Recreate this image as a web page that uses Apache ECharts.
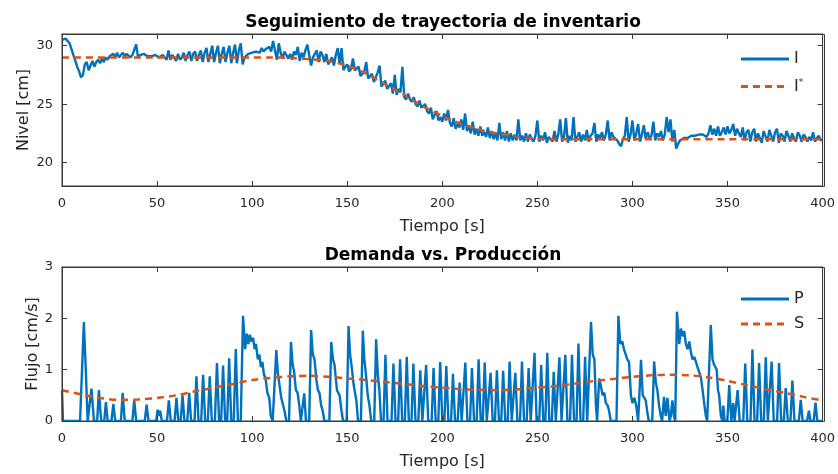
<!DOCTYPE html>
<html>
<head>
<meta charset="utf-8">
<script src="https://cdn.jsdelivr.net/npm/echarts@6/dist/echarts.min.js"></script>
<style>html,body{margin:0;padding:0;background:#fff}#c{width:838px;height:474px}</style>
</head>
<body>
<div id="c"></div>
<script>
// ---- Top chart: inventory level I (sampled every 1 s from t=0 to 400) ----
const levelI = [
30.5,30.6,30.6,30.5,30.2,29.7,29.2,28.7,28.2,27.8,
27.3,27.5,28.4,28.6,27.9,28.3,28.7,28.2,28.6,28.8,
28.5,28.9,28.6,29.0,28.8,29.1,29.0,29.3,29.0,29.4,
29.0,29.2,29.4,29.1,29.3,29.2,29.0,29.2,29.1,30.1,
29.0,29.2,29.1,29.3,29.2,29.1,29.2,29.1,29.0,29.2,
29.1,29.0,29.1,29.2,29.0,28.8,29.6,28.8,29.2,29.0,
28.7,29.3,28.8,29.0,29.4,28.7,29.2,29.5,28.7,29.3,
29.5,28.7,29.2,29.6,28.6,29.4,29.8,28.6,29.3,30.0,
28.6,29.4,30.0,28.5,29.3,29.9,28.6,29.4,30.0,28.5,
29.4,30.1,28.5,29.6,30.2,28.4,29.0,29.1,29.3,29.2,
29.4,29.3,29.5,29.6,29.4,29.8,29.5,29.7,29.6,29.9,
29.5,30.4,29.6,28.8,30.2,29.4,28.9,29.5,29.2,28.9,
29.3,28.8,29.5,29.2,29.9,28.7,29.4,29.0,29.6,30.1,
29.2,28.3,29.0,29.3,29.6,28.6,29.5,29.2,28.6,29.3,
28.4,28.5,29.0,28.3,29.2,29.8,28.4,29.8,27.9,28.2,
28.4,27.8,28.0,28.9,27.9,27.8,28.2,27.4,27.3,27.8,
28.6,27.2,27.2,27.6,26.9,27.0,27.7,28.3,26.5,26.6,
27.0,26.3,26.4,26.8,25.9,27.5,25.8,26.3,26.0,28.2,
25.6,25.4,25.9,25.4,25.2,25.6,25.0,24.8,25.3,24.7,
24.6,25.0,24.4,24.2,24.7,23.7,24.1,24.4,23.6,23.9,
23.5,24.2,23.6,24.5,23.4,23.1,23.8,22.9,23.3,23.0,
23.7,22.8,24.2,22.7,23.2,22.5,23.5,22.4,22.9,22.3,
23.1,22.3,22.6,22.2,23.0,22.1,22.7,22.0,22.5,21.9,
23.4,22.0,22.6,21.9,22.7,21.8,22.5,21.9,22.4,21.9,
23.7,21.9,22.3,21.8,22.5,21.8,22.4,22.0,21.8,22.3,
23.6,21.8,22.3,21.9,22.6,21.7,22.2,22.3,21.8,22.7,
21.8,22.4,23.7,21.8,22.2,23.8,21.7,22.3,21.9,23.9,
21.8,22.2,22.6,21.8,22.4,21.9,22.8,21.8,22.3,22.5,
23.4,21.8,22.4,22.1,22.6,21.9,22.4,23.6,21.9,22.6,
22.2,22.1,21.9,21.6,21.4,22.0,22.3,23.9,21.8,22.4,
23.6,21.9,22.5,23.3,21.8,22.4,23.2,22.0,22.6,22.1,
22.3,23.5,21.9,22.5,22.2,22.7,21.9,22.4,23.9,22.6,
23.7,21.8,22.8,21.2,21.6,21.9,22.0,22.1,22.2,22.1,
22.2,22.3,22.2,22.3,22.2,22.4,22.3,22.4,22.3,22.2,
22.5,23.2,22.4,22.9,22.3,23.1,22.3,22.6,23.0,22.4,
23.1,22.5,22.8,23.3,22.3,22.9,22.5,22.2,23.0,21.9,
22.6,22.8,21.8,22.6,22.9,21.8,22.5,22.4,21.7,22.7,
22.6,21.8,22.8,22.3,21.8,22.6,22.9,21.7,22.5,22.3,
21.8,22.7,22.3,21.8,22.5,22.1,21.8,22.6,22.3,21.8,
22.4,22.2,21.8,22.2,21.9,22.6,21.8,22.1,22.3,21.9,
22.0];

// reference trajectory I*
const refTime = [0,100,110,120,130,140,150,160,170,180,190,200,210,220,230,240,250,260,300,350,400];
const refI    = [29.0,29.0,29.0,28.95,28.85,28.7,28.3,27.6,26.7,25.8,24.8,24.0,23.3,22.8,22.45,22.2,22.05,22.0,22.0,22.0,22.0];

// ---- Bottom chart: production P (vertices) and demand S ----
const pTime = [0,0.5,9.5,11.5,12.5,13.5,15.5,16.8,18.5,19.4,20.6,22.2,23.1,24,26,27,28,31,31.9,33,37,38,39,43.5,44.5,45.5,49.5,50.3,51,51.6,52.5,55.2,56.2,57.2,59.2,60.2,61.2,62.4,63.4,64.4,65.9,66.9,67.9,69.7,70.7,71.8,73.2,74.2,75.3,76.7,77.7,78.8,80.4,81.5,82.6,83.7,84.7,85.8,86.9,87.9,89,90.3,91.4,92.5,94,95.2,96.3,97.2,98,98.8,99.6,100.5,101.3,102,103,103.8,104.6,105.4,106.2,107,108,109,109.8,110.8,111.8,112.7,113.6,114.4,115.3,116.2,117,118,119.4,120.4,121.3,122.1,123,123.9,124.8,125.6,126.6,127.4,128.3,130,131,131.9,132.8,133.8,134.6,135.4,136.3,137.1,138,140.6,141.6,142.5,143.3,144.6,145.3,146,147,147.8,149.7,150.7,151.5,152.2,153.4,154.1,154.8,155.7,157.2,158.2,159,159.6,160.8,161.7,162.6,164.2,165.2,166.1,166.9,167.8,169.1,170.1,171.2,173.3,174.3,175.4,176.8,177.8,178.9,180.3,181.3,182.4,183.8,184.8,185.9,187.4,188.4,189.5,190.5,191.5,192.6,194.4,195.4,196.5,197.9,198.9,200,201.1,202.1,203.2,204.6,205.6,206.7,208.1,209.1,210.2,211.1,212.1,213.2,214.6,215.6,216.7,218.1,219.1,220.2,221.3,222.3,223.4,224.4,225.4,226.5,227.7,228.7,229.8,231,232,233.1,234.4,235.4,236.5,237.4,238.4,239.5,240.9,241.9,243,244.4,245.4,246.5,247.5,248.5,249.6,251,252,253.1,254.2,255.2,256.3,257.6,258.6,259.7,260.6,261.6,262.7,263.7,264.7,265.8,267.2,268.2,269.3,270.6,271.6,272.7,274.1,275.1,276.2,277.2,278.2,279.1,280,280.8,281.4,282.5,283.3,284.3,285.2,286,287,287.7,288.6,291.6,292.6,293.6,294.7,295.5,296.4,297.3,298.2,299.2,300,301,302,303,303.8,304.5,305.4,306.3,307,307.9,308.6,310.4,311.4,312.3,313.1,314,314.9,315.6,316.6,317.5,318.4,319.5,320.2,321,321.8,322.5,323.4,324.6,325.5,326.4,327.2,328.1,329,329.9,330.7,331.6,332.5,333.4,334.2,335.1,336,336.9,337.7,338.6,339.3,340.2,341.2,342.1,342.9,343.6,344.3,345,345.6,346.5,347.3,347.8,348.5,349.9,350.9,352,353,353.7,354.3,355.3,356.4,358.3,359.3,360.4,362.1,363.1,364.2,365.6,366.6,367.7,369.1,370.1,371.2,372.2,373.2,374.3,376.1,377.1,378.2,379.6,380.6,381.7,383.1,384.1,385.2,387.5,388.5,389.5,391.8,392.8,393.6,395.3,396.3,397.2,400];
const pFlow = [0.6,0,0,1.93,1.0,0,0.63,0,0,0.6,0,0,0.37,0,0,0.33,0,0,0.55,0,0,0.4,0,0,0.32,0,0,0.22,0.1,0.2,0,0,0.4,0,0,0.45,0,0,0.5,0,0,0.55,0,0,0.87,0,0,0.9,0,0,0.87,0,0,1.13,0,0,1.08,0,0,1.22,0,0,1.4,0,0,2.05,1.4,1.7,1.5,1.68,1.55,1.62,1.4,1.5,1.2,1.3,1.05,1.15,0.9,0.85,0.55,0.45,0.1,0,0,1.38,0.9,0.7,0.45,0.47,0.2,0,0,1.54,1.1,0.95,0.6,0.55,0.3,0,0,0.54,0,0,1.77,1.3,1.2,0.8,0.6,0.55,0.3,0.2,0,0,1.54,1.2,1.1,0.6,0.55,0.5,0.2,0,0,1.85,1.3,1.1,0.7,0.55,0.4,0,0,1.76,1.2,1.0,0.5,0.3,0,0,1.59,0.9,0.6,0,0,1.29,0,0,1.12,0,0,1.2,0,0,1.25,0,0,1.12,0,0,0.99,0,0,1.09,0,0,1.03,0,0,1.15,0,0,1.07,0,0,0.92,0,0,0.75,0,0,1.14,0,0,1.03,0,0,1.2,0,0,1.14,0,0,0.94,0,0,0.99,0,0,0.98,0,0,1.16,0,0,0.94,0,0,1.16,0,0,1.03,0,0,1.33,0,0,1.09,0,0,1.33,0,0,0.96,0,0,1.24,0,0,1.29,0,0,1.29,0,0,1.51,0,0,1.25,0,0,1.93,1.3,1.2,0.3,0,0.83,0.7,0.5,0.55,0.35,0.3,0.2,0,0,2.05,1.5,1.55,1.4,1.42,1.2,1.15,0.5,0.35,0.45,0.3,0,0,1.19,0.5,0.45,0.4,0.15,0,0,1.16,0.75,0.6,0.3,0.1,0,0.47,0.1,0.45,0,0.1,0.4,0.1,0,2.13,1.5,1.8,1.65,1.75,1.5,1.4,1.55,1.35,1.2,1.25,1.15,1.05,0.95,0.85,0.6,0.35,0.1,0,0,1.87,1.2,1.1,1.12,1.0,0.6,0.5,0.1,0,0.3,0,0,0.7,0,0.35,0,0,0.6,0,0,1.12,0,0,1.39,0,0,1.13,0,0,1.24,0,0,1.16,0,0,1.13,0,0,0.64,0,0,0.79,0,0,0.41,0,0,0.2,0,0,0.36,0,0];

const sTime = [0,10,20,30,40,50,60,70,80,90,100,110,120,130,140,150,160,170,180,190,200,210,220,230,240,250,260,270,280,290,300,310,320,330,340,350,360,370,380,390,400];
const sFlow = [0.6,0.52,0.45,0.41,0.42,0.45,0.5,0.58,0.65,0.72,0.8,0.84,0.87,0.88,0.86,0.83,0.8,0.76,0.72,0.68,0.65,0.62,0.61,0.6,0.62,0.65,0.68,0.73,0.78,0.82,0.86,0.89,0.9,0.89,0.85,0.78,0.7,0.62,0.55,0.47,0.4];

const topYTicks = [20,25,30];
const botYTicks = [0,1,2,3];

const BLUE = '#0072BD', ORANGE = '#D95319', AX = '#3a3a3a', TXT = '#262626';
const FONT = '"DejaVu Sans", Verdana, sans-serif';
const SOLID_ICON = 'path://M0,0h48v3h-48z';
const DASH_ICON = 'path://M0,0h7v3h-7zM12,0h7v3h-7zM24,0h7v3h-7zM36,0h7v3h-7zM47.9,0h0.1v3h-0.1z';
const GRID_TOP = {left: 62, top: 34, width: 762, height: 152};
const GRID_BOT = {left: 62, top: 267, width: 762, height: 154};

function xAx(gi, pos, showLabel, name) {
  return {
    type: 'value', gridIndex: gi, position: pos, min: 0, max: 400, interval: 50, z: 5,
    axisLine: {show: true, onZero: false, lineStyle: {color: AX, width: 1}},
    axisTick: {show: true, inside: true, length: 5, lineStyle: {color: AX, width: 1}},
    axisLabel: {show: showLabel, color: TXT, fontSize: 13, fontFamily: FONT, margin: 11},
    splitLine: {show: false},
    name: name, nameLocation: 'middle', nameGap: 33, nameMoveOverlap: false,
    nameTextStyle: {color: TXT, fontSize: 16, fontFamily: FONT}
  };
}
function yAx(gi, pos, showLabel, min, max, ticks, name, gap) {
  return {
    type: 'value', gridIndex: gi, position: pos, min: min, max: max, z: 5,
    axisLine: {show: true, onZero: false, lineStyle: {color: AX, width: 1}},
    axisTick: {show: true, inside: true, length: 5, customValues: ticks, lineStyle: {color: AX, width: 1}},
    axisLabel: {show: showLabel, color: TXT, fontSize: 13, fontFamily: FONT, margin: 9, customValues: ticks},
    splitLine: {show: false},
    name: name, nameLocation: 'middle', nameGap: gap, nameMoveOverlap: false,
    nameTextStyle: {color: TXT, fontSize: 16, fontFamily: FONT}
  };
}
function frame(g) {
  return {type: 'rect', z: 100, silent: true,
    shape: {x: g.left + 0.5, y: g.top + 0.5, width: g.width, height: g.height},
    style: {fill: null, stroke: AX, lineWidth: 1}};
}

const option = {
  animation: false,
  backgroundColor: '#fff',
  title: [
    {text: 'Seguimiento de trayectoria de inventario', left: 438, top: 9, textAlign: 'center',
     textStyle: {fontSize: 17, fontWeight: 'bold', color: '#000', fontFamily: FONT}},
    {text: 'Demanda vs. Producción', left: 438, top: 242, textAlign: 'center',
     textStyle: {fontSize: 17, fontWeight: 'bold', color: '#000', fontFamily: FONT}}
  ],
  grid: [
    Object.assign({show: true, borderColor: AX, borderWidth: 1}, GRID_TOP),
    Object.assign({show: true, borderColor: AX, borderWidth: 1}, GRID_BOT)
  ],
  graphic: [frame(GRID_TOP), frame(GRID_BOT)],
  xAxis: [
    xAx(0, 'bottom', true, 'Tiempo [s]'), xAx(0, 'top', false, ''),
    xAx(1, 'bottom', true, 'Tiempo [s]'), xAx(1, 'top', false, '')
  ],
  yAxis: [
    yAx(0, 'left', true, 18, 31, topYTicks, 'Nivel [cm]', 30), yAx(0, 'right', false, 18, 31, topYTicks, '', 10),
    yAx(1, 'left', true, 0, 3, botYTicks, 'Flujo [cm/s]', 21), yAx(1, 'right', false, 0, 3, botYTicks, '', 10)
  ],
  legend: [
    {data: [{name: 'I', icon: SOLID_ICON}, {name: 'I*', icon: DASH_ICON}],
     orient: 'vertical', left: 736, top: 46, itemWidth: 48, itemHeight: 3, itemGap: 11,
     textStyle: {fontSize: 16, color: TXT, fontFamily: FONT, rich: {sup: {fontSize: 9, verticalAlign: 'top', padding: [0,0,8,0], color: TXT, fontFamily: FONT}}},
     formatter: function (n) { return n === 'I*' ? 'I{sup|*}' : n; }},
    {data: [{name: 'P', icon: SOLID_ICON}, {name: 'S', icon: DASH_ICON}],
     orient: 'vertical', left: 736, top: 286, itemWidth: 48, itemHeight: 3, itemGap: 9,
     textStyle: {fontSize: 16, color: TXT, fontFamily: FONT}}
  ],
  series: [
    {name: 'I', type: 'line', xAxisIndex: 0, yAxisIndex: 0, showSymbol: false, symbol: 'none',
     data: levelI.map((v, i) => [i, v]), lineStyle: {color: BLUE, width: 2.4}, itemStyle: {color: BLUE}, z: 2},
    {name: 'I*', type: 'line', xAxisIndex: 0, yAxisIndex: 0, showSymbol: false, symbol: 'none', smooth: 0.3,
     data: refTime.map((t, i) => [t, refI[i]]), lineStyle: {color: ORANGE, width: 2.5, type: [7, 5]}, itemStyle: {color: ORANGE}, z: 3},
    {name: 'P', type: 'line', xAxisIndex: 2, yAxisIndex: 2, showSymbol: false, symbol: 'none',
     data: pTime.map((t, i) => [t, pFlow[i]]), lineStyle: {color: BLUE, width: 2.4}, itemStyle: {color: BLUE}, z: 2},
    {name: 'S', type: 'line', xAxisIndex: 2, yAxisIndex: 2, showSymbol: false, symbol: 'none', smooth: 0.3,
     data: sTime.map((t, i) => [t, sFlow[i]]), lineStyle: {color: ORANGE, width: 2.5, type: [7, 5]}, itemStyle: {color: ORANGE}, z: 3}
  ]
};
const chart = echarts.init(document.getElementById('c'), null, {renderer: 'canvas'});
chart.setOption(option);
</script>
</body>
</html>
